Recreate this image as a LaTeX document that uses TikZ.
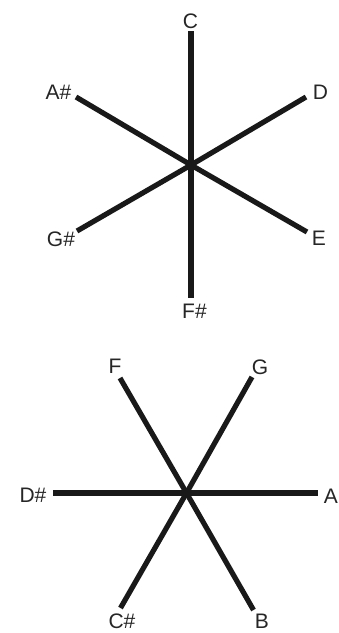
\documentclass[tikz,border=0pt]{standalone}
\usepackage{fontspec}
\setmainfont{Liberation Sans}
\begin{document}
\begin{tikzpicture}[x=1pt,y=-1pt,
  spoke/.style={line width=5.2pt, color=black!90, line cap=butt},
  note/.style={inner sep=0pt, text=black!85, font=\fontsize{21}{24}\selectfont}]
\useasboundingbox[fill=white] (0,0) rectangle (338,633);
% top star
\coordinate (o1) at (191,165);
\coordinate (eC) at (191,31);
\coordinate (eFs) at (191,298);
\coordinate (eAs) at (76,97);
\coordinate (eD) at (306,97);
\coordinate (eGs) at (77,231);
\coordinate (eE) at (307,232);
\foreach \e in {eC,eFs,eAs,eD,eGs,eE} \draw[spoke] (o1) -- (\e);
\node[note] (lC) at (190.5,21) {C};
\node[note] (lFs) at (194.5,311) {F\#};
\node[note] (lAs) at (58.5,92) {A\#};
\node[note] (lD) at (320.5,92) {D};
\node[note] (lGs) at (61,239) {G\#};
\node[note] (lE) at (319,238) {E};
% bottom star
\coordinate (o2) at (186.5,493);
\coordinate (eDs) at (52.5,493);
\coordinate (eA) at (318,493);
\coordinate (eF) at (120,378);
\coordinate (eG) at (252,377);
\coordinate (eCs) at (120.5,608);
\coordinate (eB) at (253.5,610);
\foreach \e in {eDs,eA,eF,eG,eCs,eB} \draw[spoke] (o2) -- (\e);
\node[note] (lF) at (115,366) {F};
\node[note] (lG) at (260,367) {G};
\node[note] (lDs) at (33,495) {D\#};
\node[note, anchor=east] (lA) at (338,496) {A};
\node[note] (lCs) at (122,621.5) {C\#};
\node[note] (lB) at (262,621.5) {B};
\end{tikzpicture}
\end{document}
